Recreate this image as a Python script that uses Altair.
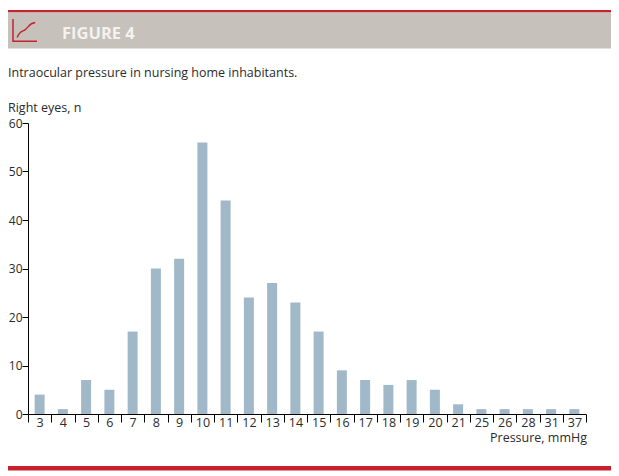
import altair as alt
import pandas as pd

pressure = ["3","4","5","6","7","8","9","10","11","12","13","14","15","16","17","18","19","20","21","25","26","28","31","37"]
eyes = [4,1,7,5,17,30,32,56,44,24,27,23,17,9,7,6,7,5,2,1,1,1,1,1]
figure_label = "FIGURE 4"
subtitle = "Intraocular pressure in nursing home inhabitants."
y_title = "Right eyes, n"
x_title = "Pressure, mmHg"

FONT = "Open Sans"
TXT = "#2b2b2b"
RED = "#c5222e"
PAD_L, PAD_T = 20, 115

def px(v):
    return alt.value(v - 8 - PAD_L)

def py(v):
    return alt.value(v - 8 - PAD_T)

one = alt.Data(values=[{"k": 1}])

def band(x0, x1, y0, y1, color):
    return alt.Chart(one).mark_rect(color=color).encode(x=px(x0), x2=px(x1), y=py(y0), y2=py(y1))

def label(text, x, y, size, color=TXT, align="left", weight="normal"):
    return alt.Chart(one).mark_text(
        text=text, align=align, baseline="alphabetic", font=FONT, fontSize=size,
        color=color, fontWeight=weight
    ).encode(x=px(x), y=py(y))

df = pd.DataFrame({"p": pressure, "n": eyes})

bars = alt.Chart(df).mark_bar(color="#a0b8c8", size=10).encode(
    x=alt.X("p:N", sort=pressure, title=None,
            scale=alt.Scale(paddingInner=0, paddingOuter=0),
            axis=alt.Axis(labelAngle=0, tickBand="extent", tickSize=8, tickColor="#000",
                          domainColor="#000", labelPadding=-6, labelFontSize=12.5, labelFont=FONT,
                          labelColor=TXT, labelOverlap=False, grid=False, labelBaseline="top")),
    y=alt.Y("n:Q", title=None, scale=alt.Scale(domain=[0, 60], nice=False),
            axis=alt.Axis(values=[0,10,20,30,40,50,60], tickSize=6, tickColor="#000",
                          domainColor="#000", labelPadding=0, labelFontSize=12, labelFont=FONT,
                          labelColor=TXT, grid=False)),
)

icon = alt.Chart(one).mark_point(
    shape="M-1 -1 L-1 0.85 L1 0.85 M-0.65 0.55 C-0.45 -0.05 -0.2 0.05 0 -0.1 C0.3 -0.3 0.35 -0.65 0.85 -0.7",
    size=576, filled=False, stroke=RED, strokeWidth=1.5, opacity=1
).encode(x=px(25), y=py(31))

chart = alt.layer(
    band(0, 619, 10, 12.5, RED),
    band(0, 619, 12.5, 48.5, "#c6c1bb"),
    band(0, 619, 466, 470.5, RED),
    icon,
    label(figure_label, 62, 38.5, 16.5, "#f4f2ef", weight="bold"),
    label(subtitle, 8, 77, 12.5),
    label(y_title, 8, 112, 12.5),
    bars,
    label(x_title, 587, 442, 12.5, align="right"),
).properties(
    width=558, height=291,
    padding={"left": PAD_L, "top": PAD_T, "right": 25, "bottom": 57},
    autosize=alt.AutoSizeParams(type="none"),
    background="white",
).configure_view(stroke=None)

chart.save("out.html", embed_options={"renderer": "svg", "actions": False})
